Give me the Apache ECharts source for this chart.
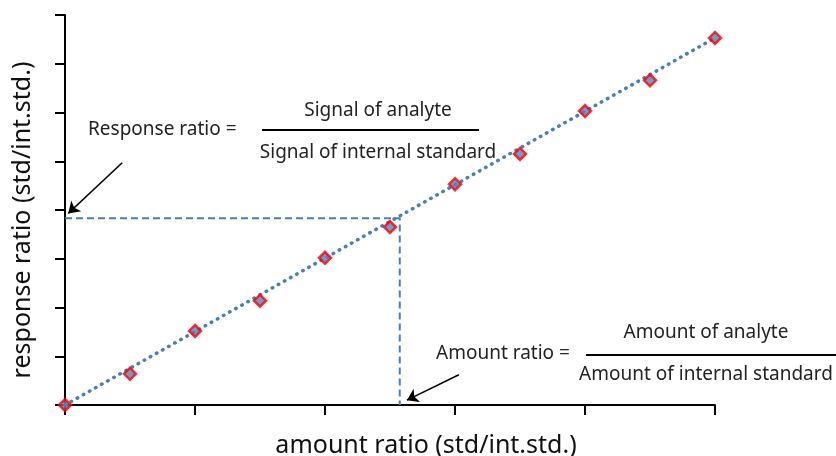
<!DOCTYPE html>
<html>
<head>
<meta charset="utf-8">
<script src="https://cdn.jsdelivr.net/npm/echarts@6/dist/echarts.min.js"></script>
<style>
    html, body { margin: 0; padding: 0; background: #fff; }
    #chart { width: 836px; height: 456px; }
</style>
</head>
<body>
<div id="chart"></div>
<script>
// calibration points (std/int.std.)
const amountRatio = [0, 1, 2, 3, 4, 5, 6, 7, 8, 9, 10]
const responseRatio = [0, 0.64, 1.52, 2.14, 3.02, 3.65, 4.53, 5.15, 6.03, 6.66, 7.53]

// fitted trend line ends
const fitX = [0, 10]
const fitY = [0, 7.53]

// reading of the unknown sample
const sampleAmount = 5.15
const sampleResponse = 3.83

// annotation arrows [from, to] in data units
const arrows = [
    [[0.88, 4.97], [0.05, 3.93]],
    [[6.06, 0.62], [5.26, 0.10]]
]

const font = 'Noto Sans'
const noteFont = '19px ' + font

const myChart = echarts.init(document.getElementById('chart'))

function note(text, x, y, align) {
    return {
        type: 'text',
        x: x,
        y: y,
        style: { text: text, font: noteFont, fill: '#222', align: align, verticalAlign: 'middle' },
    }
}

const option = {
    animation: false,
    grid: {
        left: 65,
        right: 121,
        top: 15,
        bottom: 51,
        outerBoundsMode: 'none',
        containLabel: false,
    },
    xAxis: {
        type: 'value',
        min: 0,
        max: 10,
        interval: 2,
        name: 'amount ratio (std/int.std.)',
        nameLocation: 'middle',
        nameGap: 28,
        nameTextStyle: { fontFamily: font, fontSize: 25, color: '#111', padding: [0, 0, 0, 72] },
        axisLine: { lineStyle: { color: '#000', width: 2 } },
        axisTick: { show: true, length: 10, lineStyle: { color: '#000', width: 2 } },
        axisLabel: { show: false },
        splitLine: { show: false },
    },
    yAxis: {
        type: 'value',
        min: 0,
        max: 8,
        interval: 1,
        name: 'response ratio (std/int.std.)',
        nameLocation: 'middle',
        nameGap: 30,
        nameTextStyle: { fontFamily: font, fontSize: 25, color: '#111', padding: [0, 20, 0, 0] },
        axisLine: { show: true, lineStyle: { color: '#000', width: 2 } },
        axisTick: { show: true, length: 10, lineStyle: { color: '#000', width: 2 } },
        axisLabel: { show: false },
        splitLine: { show: false },
    },
    series: [
        {
            type: 'line',
            data: fitX.map((x, i) => [x, fitY[i]]),
            symbol: 'none',
            z: 2,
            lineStyle: { color: '#4a7ebb', width: 3.5, type: [0.5, 6.5], cap: 'round' },
        },
        {
            type: 'line',
            data: [[0, sampleResponse], [sampleAmount, sampleResponse], [sampleAmount, 0]],
            symbol: 'none',
            z: 1,
            lineStyle: { color: '#4a7ebb', width: 2, type: [7, 4] },
        },
        {
            type: 'scatter',
            data: amountRatio.map((x, i) => [x, responseRatio[i]]),
            symbol: 'diamond',
            symbolSize: 12,
            z: 3,
            itemStyle: { color: '#4f81bd', borderColor: '#ff0000', borderWidth: 2.5 },
        },
        {
            type: 'lines',
            coordinateSystem: 'cartesian2d',
            z: 4,
            symbol: ['none', 'arrow'],
            symbolSize: [7, 11],
            lineStyle: { color: '#000', width: 1.5, opacity: 1 },
            data: arrows.map(a => ({ coords: a })),
        },
    ],
    graphic: [
        note('Response ratio =', 88, 130, 'left'),
        note('Signal of analyte', 378, 111, 'center'),
        { type: 'line', shape: { x1: 262, y1: 130, x2: 479, y2: 130 }, style: { stroke: '#000', lineWidth: 2 } },
        note('Signal of internal standard', 378, 153, 'center'),
        note('Amount ratio =', 436, 354, 'left'),
        note('Amount of analyte', 706, 333, 'center'),
        { type: 'line', shape: { x1: 586, y1: 355, x2: 836, y2: 355 }, style: { stroke: '#000', lineWidth: 2 } },
        note('Amount of internal standard', 706, 375, 'center'),
    ],
}

myChart.setOption(option)
</script>
</body>
</html>
